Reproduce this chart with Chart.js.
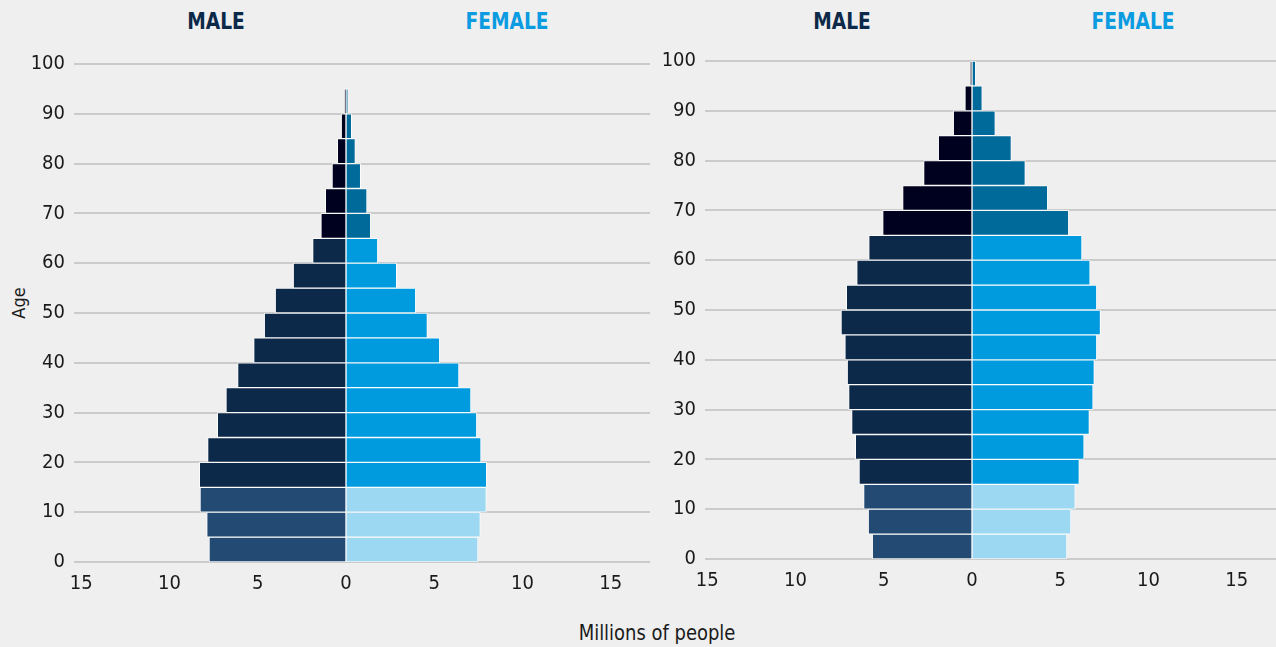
<!DOCTYPE html>
<html>
<head>
<meta charset="utf-8">
<script src="https://cdn.jsdelivr.net/npm/chart.js@4"></script>
<style>
  html, body { margin: 0; padding: 0; background: #efefef; }
  body { width: 1276px; height: 647px; position: relative; overflow: hidden;
         font-family: 'Liberation Sans Narrow', 'DejaVu Sans Condensed', 'Roboto', sans-serif; }
  .box { position: absolute; }
  .head { position: absolute; top: 8px; font-weight: bold; font-size: 23px; transform: translateX(-50%) scaleX(0.9); }
  .male { color: #0c2949; }
  .female { color: #0a9be0; }
  #ageTitle { position: absolute; left: 18px; top: 303px; font-size: 18px; color: #1a1a1a;
              transform: translate(-50%, -50%) rotate(-90deg); }
  #xTitle { position: absolute; left: 657px; top: 621px; font-size: 21px; color: #1a1a1a; transform: translateX(-50%) scaleX(0.95); }
</style>
</head>
<body>
<div class="head male" style="left:216px">MALE</div>
<div class="head female" style="left:507px">FEMALE</div>
<div class="head male" style="left:842px">MALE</div>
<div class="head female" style="left:1133px">FEMALE</div>
<div id="ageTitle">Age</div>
<div id="xTitle">Millions of people</div>

<div class="box" style="left:0; top:0; width:652px; height:600px;"><canvas id="LeftChart" width="652" height="600"></canvas></div>
<div class="box" style="left:652px; top:0; width:624px; height:600px;"><canvas id="RightChart" width="624" height="600"></canvas></div>

<script>
// 연령대 (5세 단위 시작 나이)
const ageStarts = [0, 5, 10, 15, 20, 25, 30, 35, 40, 45, 50, 55, 60, 65, 70, 75, 80, 85, 90, 95];
// x축 눈금 (백만 명)
const xTicks = [-15, -10, -5, 0, 5, 10, 15];

// 왼쪽 피라미드 (백만 명)
const leftMale   = [7.76, 7.89, 8.27, 8.31, 7.84, 7.29, 6.80, 6.14, 5.23, 4.63, 4.01, 2.99, 1.89, 1.42, 1.17, 0.79, 0.49, 0.27, 0.09, null];
const leftFemale = [7.48, 7.61, 7.95, 7.97, 7.65, 7.41, 7.08, 6.40, 5.31, 4.61, 3.95, 2.87, 1.80, 1.40, 1.19, 0.83, 0.53, 0.32, 0.12, null];

// 오른쪽 피라미드 (백만 명)
const rightMale   = [5.65, 5.88, 6.14, 6.40, 6.61, 6.82, 6.99, 7.07, 7.20, 7.42, 7.12, 6.53, 5.85, 5.06, 3.93, 2.74, 1.91, 1.06, 0.40, 0.11];
const rightFemale = [5.38, 5.61, 5.85, 6.08, 6.35, 6.65, 6.86, 6.93, 7.07, 7.28, 7.07, 6.69, 6.23, 5.48, 4.29, 3.02, 2.23, 1.32, 0.58, 0.21];

// 나이 그룹별 색 (0-14 / 15-64 / 65+)
const maleColors   = ['#234a72', '#0c2949', '#00001f'];
const femaleColors = ['#9dd8f2', '#009bdf', '#006a9a'];

const FONT = "'Liberation Sans Narrow', 'DejaVu Sans Condensed', 'Roboto', sans-serif";

const groupOf = (age) => age < 15 ? 0 : (age < 65 ? 1 : 2);

const toPoints = (values, sign) => ageStarts.map((a, i) => ({
    x: values[i] == null ? null : sign * values[i],
    y: a + 2.5
}));

const pyramid = (id, male, female, opt) => {
    const ctx = document.getElementById(id);
    if (!ctx) return;

    new Chart(ctx, {
        type: 'bar',
        data: {
            datasets: [
                {
                    label: 'Male',
                    data: toPoints(male, -1),
                    backgroundColor: (c) => maleColors[groupOf(ageStarts[c.dataIndex])]
                },
                {
                    label: 'Female',
                    data: toPoints(female, 1),
                    backgroundColor: (c) => femaleColors[groupOf(ageStarts[c.dataIndex])]
                }
            ]
        },
        options: {
            indexAxis: 'y',
            responsive: false,
            animation: false,
            layout: { padding: { top: opt.top, right: opt.right, left: 0, bottom: 0 } },
            datasets: {
                bar: {
                    barPercentage: 1,
                    categoryPercentage: 1,
                    borderWidth: 1,
                    borderColor: 'rgba(255,255,255,0.8)',
                    borderSkipped: false
                }
            },
            plugins: {
                legend: { display: false },
                tooltip: { enabled: false }
            },
            scales: {
                x: {
                    type: 'linear',
                    stacked: true,
                    min: opt.xmin,
                    max: opt.xmax,
                    grid: { display: false },
                    border: { display: false },
                    afterBuildTicks: (scale) => { scale.ticks = xTicks.map(v => ({ value: v })); },
                    afterFit: (scale) => { scale.height = opt.xh; },
                    ticks: {
                        padding: 2,
                        maxRotation: 0,
                        autoSkip: false,
                        color: '#1a1a1a',
                        font: { family: FONT, size: 20 },
                        callback: (v) => Math.abs(v)
                    }
                },
                y: {
                    type: 'linear',
                    stacked: true,
                    offset: false,
                    min: 0,
                    max: 100,
                    grid: { offset: false, color: '#cbcbcb', lineWidth: 2, drawTicks: false },
                    border: { display: false },
                    afterFit: (scale) => { scale.width = opt.yw; },
                    ticks: {
                        stepSize: 10,
                        padding: 9,
                        color: '#1a1a1a',
                        font: { family: FONT, size: 20 }
                    }
                }
            }
        }
    });
};

document.addEventListener('DOMContentLoaded', () => {
    // 왼쪽: 차트 영역 74~650, 64~562
    pyramid('LeftChart', leftMale, leftFemale, { top: 64, right: 2, yw: 74, xh: 38, xmin: -272 / 17.65, xmax: 304 / 17.65 });
    // 오른쪽: 차트 영역 705~1276, 61~559
    pyramid('RightChart', rightMale, rightFemale, { top: 61, right: 0, yw: 53, xh: 41, xmin: -267 / 17.65, xmax: 304 / 17.65 });
});
</script>
</body>
</html>
